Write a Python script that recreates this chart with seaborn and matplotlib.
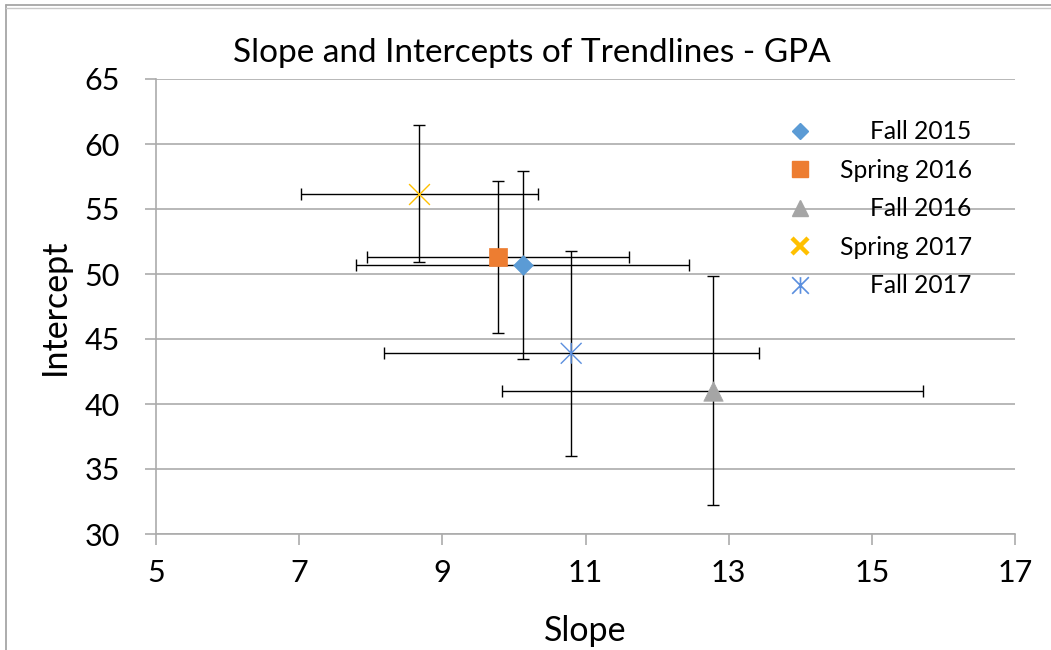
import matplotlib
matplotlib.use("Agg")
import matplotlib.pyplot as plt
from matplotlib.lines import Line2D
from matplotlib.path import Path
import seaborn as sns

# Trendline fit results per semester
terms = ["Fall 2015", "Spring 2016", "Fall 2016", "Spring 2017", "Fall 2017"]
slopes = [10.12, 9.78, 12.78, 8.68, 10.80]
intercepts = [50.69, 51.31, 41.02, 56.18, 43.90]
slope_err = [2.32, 1.83, 2.94, 1.66, 2.62]
intercept_err = [7.22, 5.83, 8.80, 5.25, 7.90]

x_ticks = [5, 7, 9, 11, 13, 15, 17]
y_ticks = [30, 35, 40, 45, 50, 55, 60, 65]

# x-with-vertical-bar marker
asterisk = Path([(-0.5, -0.5), (0.5, 0.5), (-0.5, 0.5), (0.5, -0.5), (0, -0.5), (0, 0.5)],
                [Path.MOVETO, Path.LINETO, Path.MOVETO, Path.LINETO, Path.MOVETO, Path.LINETO])

styles = {
    "Fall 2015":   dict(marker="D", color="#5B9BD5", size=10.0, filled=True),
    "Spring 2016": dict(marker="s", color="#ED7D31", size=13.5, filled=True),
    "Fall 2016":   dict(marker="^", color="#A5A5A5", size=14.0, filled=True),
    "Spring 2017": dict(marker="x", color="#FFC000", size=15.0, filled=False),
    "Fall 2017":   dict(marker=asterisk, color="#5B8FDE", size=15.0, filled=False),
}

sns.set_theme(style="white")
plt.rcParams["font.family"] = ["Lato", "DejaVu Sans"]
plt.rcParams["text.color"] = "black"
plt.rcParams["axes.labelcolor"] = "black"

fig = plt.figure(figsize=(10.51, 6.5), dpi=100)
ax = fig.add_axes([156 / 1051, 1 - 534 / 650, (1015 - 156) / 1051, (534 - 79) / 650])

grid_c = "#ABABAB"

# error bars first, markers on top
ax.errorbar(slopes, intercepts, xerr=slope_err, yerr=intercept_err, fmt="none",
            ecolor="black", elinewidth=1.0, capsize=4.5, capthick=1.0, zorder=2)

handles = []
for name, sx, iy in zip(terms, slopes, intercepts):
    st = styles[name]
    if st["filled"]:
        sns.scatterplot(x=[sx], y=[iy], marker=st["marker"], s=st["size"] ** 2,
                        color=st["color"], edgecolor=st["color"], linewidth=0.5,
                        ax=ax, zorder=3, legend=False)
        handles.append(Line2D([], [], linestyle="none", marker=st["marker"],
                              markersize=st["size"] * 0.85, color=st["color"],
                              markeredgecolor=st["color"], label=name))
    else:
        if st["marker"] == "x":
            sns.scatterplot(x=[sx], y=[iy], marker="x", s=st["size"] ** 2,
                            color=st["color"], linewidth=1.0,
                            ax=ax, zorder=3, legend=False)
        else:
            sns.scatterplot(x=[sx], y=[iy], marker=st["marker"], s=st["size"] ** 2,
                            facecolor="none", edgecolor=st["color"], linewidth=1.0,
                            ax=ax, zorder=3, legend=False)
        lw = 3.2 if st["marker"] == "x" else 1.2
        handles.append(Line2D([], [], linestyle="none", marker=st["marker"],
                              markersize=st["size"] * 0.8, color=st["color"],
                              markerfacecolor="none", markeredgecolor=st["color"],
                              markeredgewidth=lw, label=name))

ax.set_xlim(x_ticks[0], x_ticks[-1])
ax.set_ylim(y_ticks[0], y_ticks[-1])
ax.set_xticks(x_ticks)
ax.set_yticks(y_ticks)
ax.set_xticklabels([str(v) for v in x_ticks])
ax.set_yticklabels([str(v) for v in y_ticks])

ax.yaxis.grid(True, color=grid_c, linewidth=1.2)
ax.xaxis.grid(False)
ax.set_axisbelow(True)
for side in ["top", "right"]:
    ax.spines[side].set_visible(False)
for side in ["left", "bottom"]:
    ax.spines[side].set_color(grid_c)
    ax.spines[side].set_linewidth(1.2)

ax.tick_params(axis="x", which="major", direction="out", length=8, width=1.2,
               color=grid_c, labelcolor="black", labelsize=22, pad=10, bottom=True)
ax.tick_params(axis="y", which="major", direction="out", length=8, width=1.2,
               color=grid_c, labelcolor="black", labelsize=22, pad=18, left=True)

ax.set_xlabel("Slope", fontsize=24.5, labelpad=20)
ax.set_ylabel("Intercept", fontsize=24.5, labelpad=10)

fig.text(532 / 1051, 1 - 53 / 650, "Slope and Intercepts of Trendlines - GPA",
         fontsize=24, ha="center", va="center")

leg = ax.legend(handles=handles, loc="upper right", frameon=False,
                bbox_to_anchor=(984 / 1051, 1 - 108 / 650),
                bbox_transform=fig.transFigure, fontsize=17.7,
                handletextpad=1.0, labelspacing=0.63, borderpad=0, handlelength=1.2)

# right-align the legend labels while keeping the markers in one column
renderer = fig.canvas.get_renderer()
texts = leg.get_texts()
widths = [t.get_window_extent(renderer).width * 72 / fig.dpi for t in texts]
wmax = max(widths)
rows = leg._legend_handle_box.get_children()[0].get_children()
for row, w in zip(rows, widths):
    row.sep = row.sep + (wmax - w)

# chart frame
frame_c = "#A6A6A6"
fig.add_artist(Line2D([5.5 / 1051, 5.5 / 1051], [0, 1 - 5 / 650], transform=fig.transFigure,
                      color=frame_c, linewidth=1.3))
fig.add_artist(Line2D([5.5 / 1051, 1], [1 - 5 / 650, 1 - 5 / 650], transform=fig.transFigure,
                      color=frame_c, linewidth=1.3))
fig.add_artist(Line2D([5.5 / 1051, 1], [1 - 8.3 / 650, 1 - 8.3 / 650], transform=fig.transFigure,
                      color="#C8C8C8", linewidth=1.0))

fig.savefig("out.png", dpi=100)
